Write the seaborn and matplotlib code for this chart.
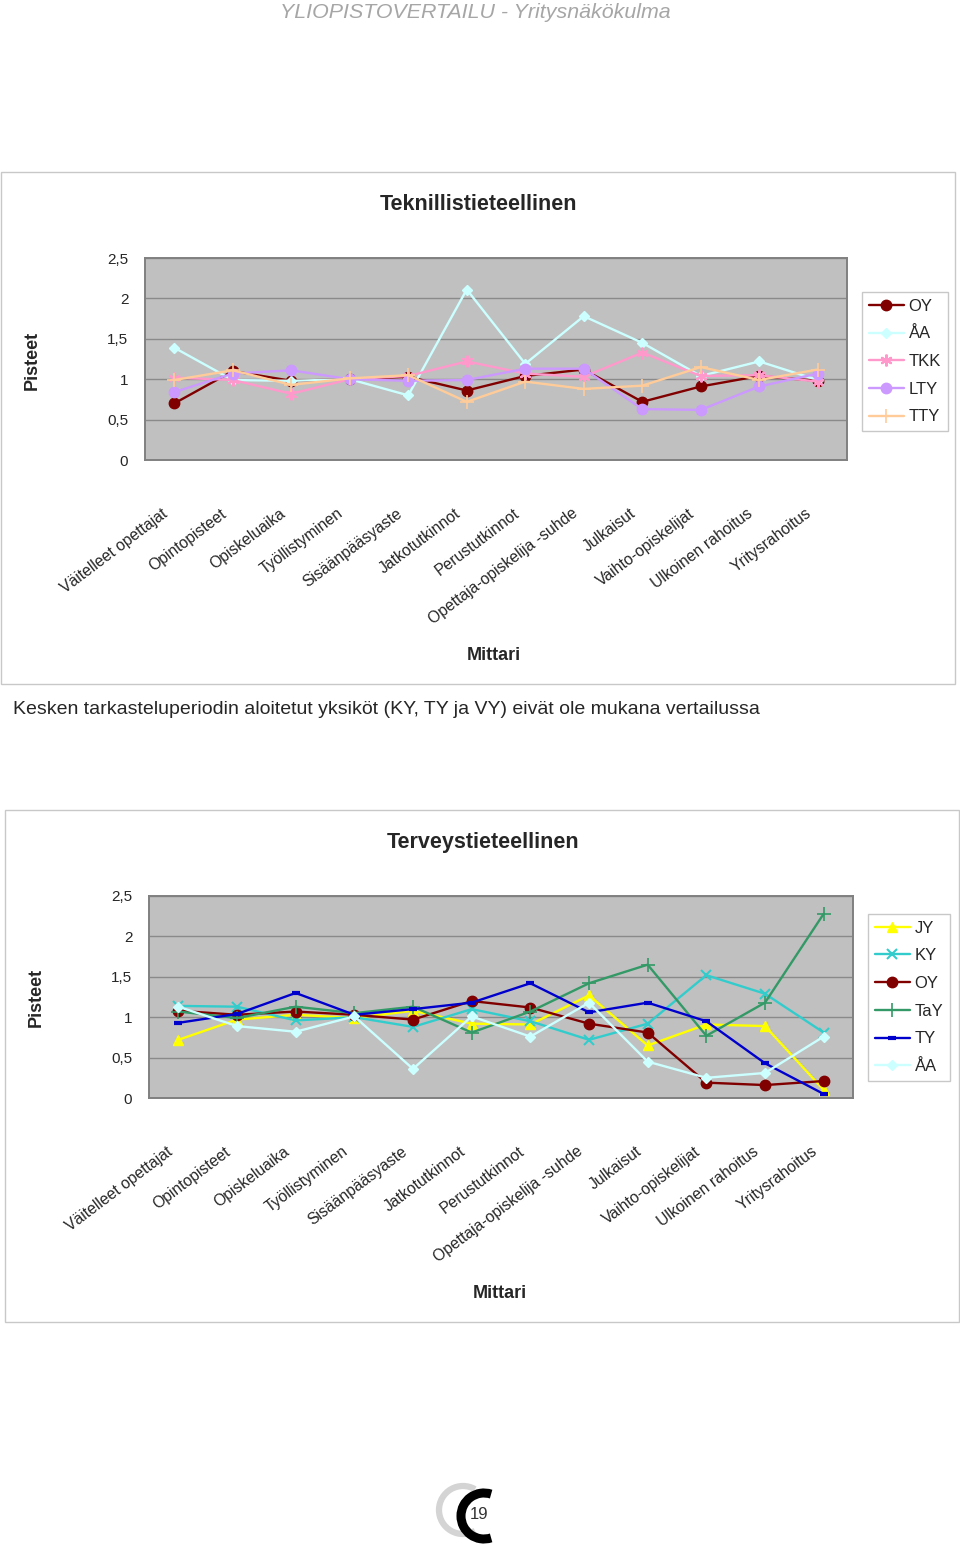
import matplotlib
matplotlib.use("Agg")
import matplotlib.pyplot as plt
from matplotlib.patches import Rectangle, Arc
from matplotlib.transforms import ScaledTranslation
import pandas as pd
import seaborn as sns

# Data
categories = [
    "Väitelleet opettajat", "Opintopisteet", "Opiskeluaika", "Työllistyminen",
    "Sisäänpääsyaste", "Jatkotutkinnot", "Perustutkinnot",
    "Opettaja-opiskelija -suhde", "Julkaisut", "Vaihto-opiskelijat",
    "Ulkoinen rahoitus", "Yritysrahoitus",
]
y_ticks = [0, 0.5, 1, 1.5, 2, 2.5]
y_tick_labels = ["0", "0,5", "1", "1,5", "2", "2,5"]

# Teknillistieteellinen
tek_units = ["OY", "ÅA", "TKK", "LTY", "TTY"]
tek_oy = [0.70, 1.10, 0.98, 1.00, 1.03, 0.86, 1.04, 1.12, 0.72, 0.91, 1.04, 0.98]
tek_aa = [1.39, 0.99, 0.98, 1.00, 0.80, 2.11, 1.19, 1.78, 1.45, 1.04, 1.22, 0.99]
tek_tkk = [1.02, 0.99, 0.82, 1.00, 1.04, 1.22, 1.07, 1.03, 1.33, 1.04, 1.05, 0.97]
tek_lty = [0.84, 1.07, 1.11, 1.00, 0.98, 0.99, 1.13, 1.13, 0.63, 0.62, 0.91, 1.07]
tek_tty = [0.99, 1.11, 0.93, 1.01, 1.05, 0.72, 0.97, 0.88, 0.92, 1.15, 0.99, 1.12]

# Terveystieteellinen
ter_units = ["JY", "KY", "OY", "TaY", "TY", "ÅA"]
ter_jy = [0.72, 0.97, 1.03, 0.99, 1.08, 0.92, 0.91, 1.27, 0.65, 0.91, 0.89, 0.10]
ter_ky = [1.14, 1.13, 0.96, 1.00, 0.88, 1.10, 0.95, 0.72, 0.92, 1.52, 1.29, 0.81]
ter_oy = [1.08, 1.03, 1.07, 1.03, 0.97, 1.20, 1.12, 0.92, 0.81, 0.19, 0.16, 0.21]
ter_tay = [1.07, 0.99, 1.13, 1.05, 1.13, 0.81, 1.07, 1.42, 1.65, 0.77, 1.18, 2.28]
ter_ty = [0.93, 1.04, 1.30, 1.03, 1.10, 1.18, 1.42, 1.06, 1.18, 0.95, 0.43, 0.05]
ter_aa = [1.13, 0.89, 0.82, 1.01, 0.36, 1.01, 0.76, 1.18, 0.45, 0.25, 0.31, 0.76]

# colour, marker, marker size, marker edge width
tek_styles = [
    ("#800000", "o", 7.5, 1.0),
    ("#CCFFFF", "D", 5.5, 1.0),
    ("#FF99CC", (6, 2, 0), 8.5, 1.5),
    ("#CC99FF", "o", 7.5, 1.0),
    ("#FFCC99", "+", 9.5, 1.2),
]
ter_styles = [
    ("#FFFF00", "^", 7.5, 1.0),
    ("#33CCCC", "x", 7.5, 1.5),
    ("#800000", "o", 7.5, 1.0),
    ("#339966", "+", 9.5, 1.2),
    ("#0000CC", "_", 6.0, 3.0),
    ("#CCFFFF", "D", 5.5, 1.0),
]

W, H = 960, 1544
FONT = "Liberation Sans"

sns.set_style("white")
plt.rcParams["font.family"] = [FONT, "DejaVu Sans"]


def fx(x):
    return x / W


def fy(y):
    return 1 - y / H


def draw_chart(fig, box, area, title, title_xy, units, series, styles, ylab_xy, xlab_xy, leg_xy):
    # outer chart frame
    bx0, by0, bx1, by1 = box
    fig.add_artist(Rectangle((fx(bx0), fy(by1)), (bx1 - bx0) / W, (by1 - by0) / H,
                             transform=fig.transFigure, fill=False,
                             edgecolor="#C8C8C8", linewidth=1.0))
    x0, y0, x1, y1 = area
    ax = fig.add_axes([fx(x0), fy(y1), (x1 - x0) / W, (y1 - y0) / H])
    ax.set_facecolor("#C0C0C0")

    for unit, vals, (col, mk, ms, mew) in zip(units, series, styles):
        df = pd.DataFrame({"Mittari": categories, "Pisteet": vals})
        sns.lineplot(data=df, x="Mittari", y="Pisteet", ax=ax, sort=False,
                     color=col, marker=mk, markersize=ms, markeredgewidth=mew,
                     markerfacecolor=col, markeredgecolor=col,
                     linewidth=1.7, label=unit)

    ax.set_xlim(-0.5, len(categories) - 0.5)
    ax.set_ylim(0, 2.5)
    ax.set_yticks(y_ticks)
    ax.set_yticklabels(y_tick_labels, fontsize=11)
    ax.set_xticks(range(len(categories)))
    ax.set_xticks([i - 0.5 for i in range(len(categories) + 1)], minor=True)
    ax.tick_params(axis="x", which="major", length=0, pad=33)
    ax.tick_params(axis="x", which="minor", length=4, width=1, color="#808080", direction="out")
    ax.tick_params(axis="y", length=4, width=1, color="#808080", direction="out", pad=8)
    ax.set_xticklabels(categories, fontsize=11.3, rotation=37, ha="right", va="top",
                       rotation_mode="anchor")
    # nudge the slanted labels left, as in the original
    shift = ScaledTranslation(-9 / 72, 0, fig.dpi_scale_trans)
    for lab in ax.get_xticklabels():
        lab.set_transform(lab.get_transform() + shift)
    ax.yaxis.grid(True, color="#8A8A8A", linewidth=1.0)
    ax.set_axisbelow(True)
    for s in ax.spines.values():
        s.set_color("#808080")
        s.set_linewidth(1.4)
    ax.set_xlabel("")
    ax.set_ylabel("")

    fig.text(fx(title_xy[0]), fy(title_xy[1]), title, fontsize=15.5, fontweight="bold",
             ha="center", va="center")
    fig.text(fx(ylab_xy[0]), fy(ylab_xy[1]), "Pisteet", fontsize=13, fontweight="bold",
             rotation=90, ha="center", va="center")
    fig.text(fx(xlab_xy[0]), fy(xlab_xy[1]), "Mittari", fontsize=13, fontweight="bold",
             ha="center", va="center")

    handles, labels = ax.get_legend_handles_labels()
    ax.legend(handles, labels, loc="upper left", bbox_to_anchor=(fx(leg_xy[0]), fy(leg_xy[1])),
              bbox_transform=fig.transFigure, borderaxespad=0, frameon=True, fancybox=False,
              edgecolor="#C8C8C8", framealpha=1, fontsize=12, handlelength=2.1,
              handletextpad=0.3, labelspacing=0.76, borderpad=0.4)
    return ax


fig = plt.figure(figsize=(W / 100, H / 100), dpi=100)

fig.text(fx(475), fy(12), "YLIOPISTOVERTAILU - Yritysnäkökulma", fontsize=15.4,
         style="italic", color="#A6A6A6", ha="center", va="center")

draw_chart(fig, (1, 172, 955, 684), (145, 258, 847, 460), "Teknillistieteellinen", (479, 205),
           tek_units, [tek_oy, tek_aa, tek_tkk, tek_lty, tek_tty], tek_styles,
           (32, 360), (494, 656), (862, 292))

fig.text(fx(13), fy(709),
         "Kesken tarkasteluperiodin aloitetut yksiköt (KY, TY ja VY) eivät ole mukana vertailussa",
         fontsize=14, ha="left", va="center")

draw_chart(fig, (5, 810, 959, 1322), (149, 896, 853, 1098), "Terveystieteellinen", (483, 842),
           ter_units, [ter_jy, ter_ky, ter_oy, ter_tay, ter_ty, ter_aa], ter_styles,
           (36, 997), (500, 1294), (868, 914))

# page number logo
lax = fig.add_axes([fx(420), fy(1544), 120 / W, 74 / H])
lax.set_xlim(420, 540)
lax.set_ylim(1544, 1470)
lax.axis("off")
lax.add_patch(Arc((463, 1510), 48, 48, theta1=60, theta2=300, color="#D4D4D4", linewidth=4.5))
lax.add_patch(Arc((484, 1516), 46, 46, theta1=72, theta2=288, color="black", linewidth=6.5))
lax.text(479, 1515, "19", fontsize=12, color="#333333", ha="center", va="center")

fig.savefig("out.png", dpi=100)
